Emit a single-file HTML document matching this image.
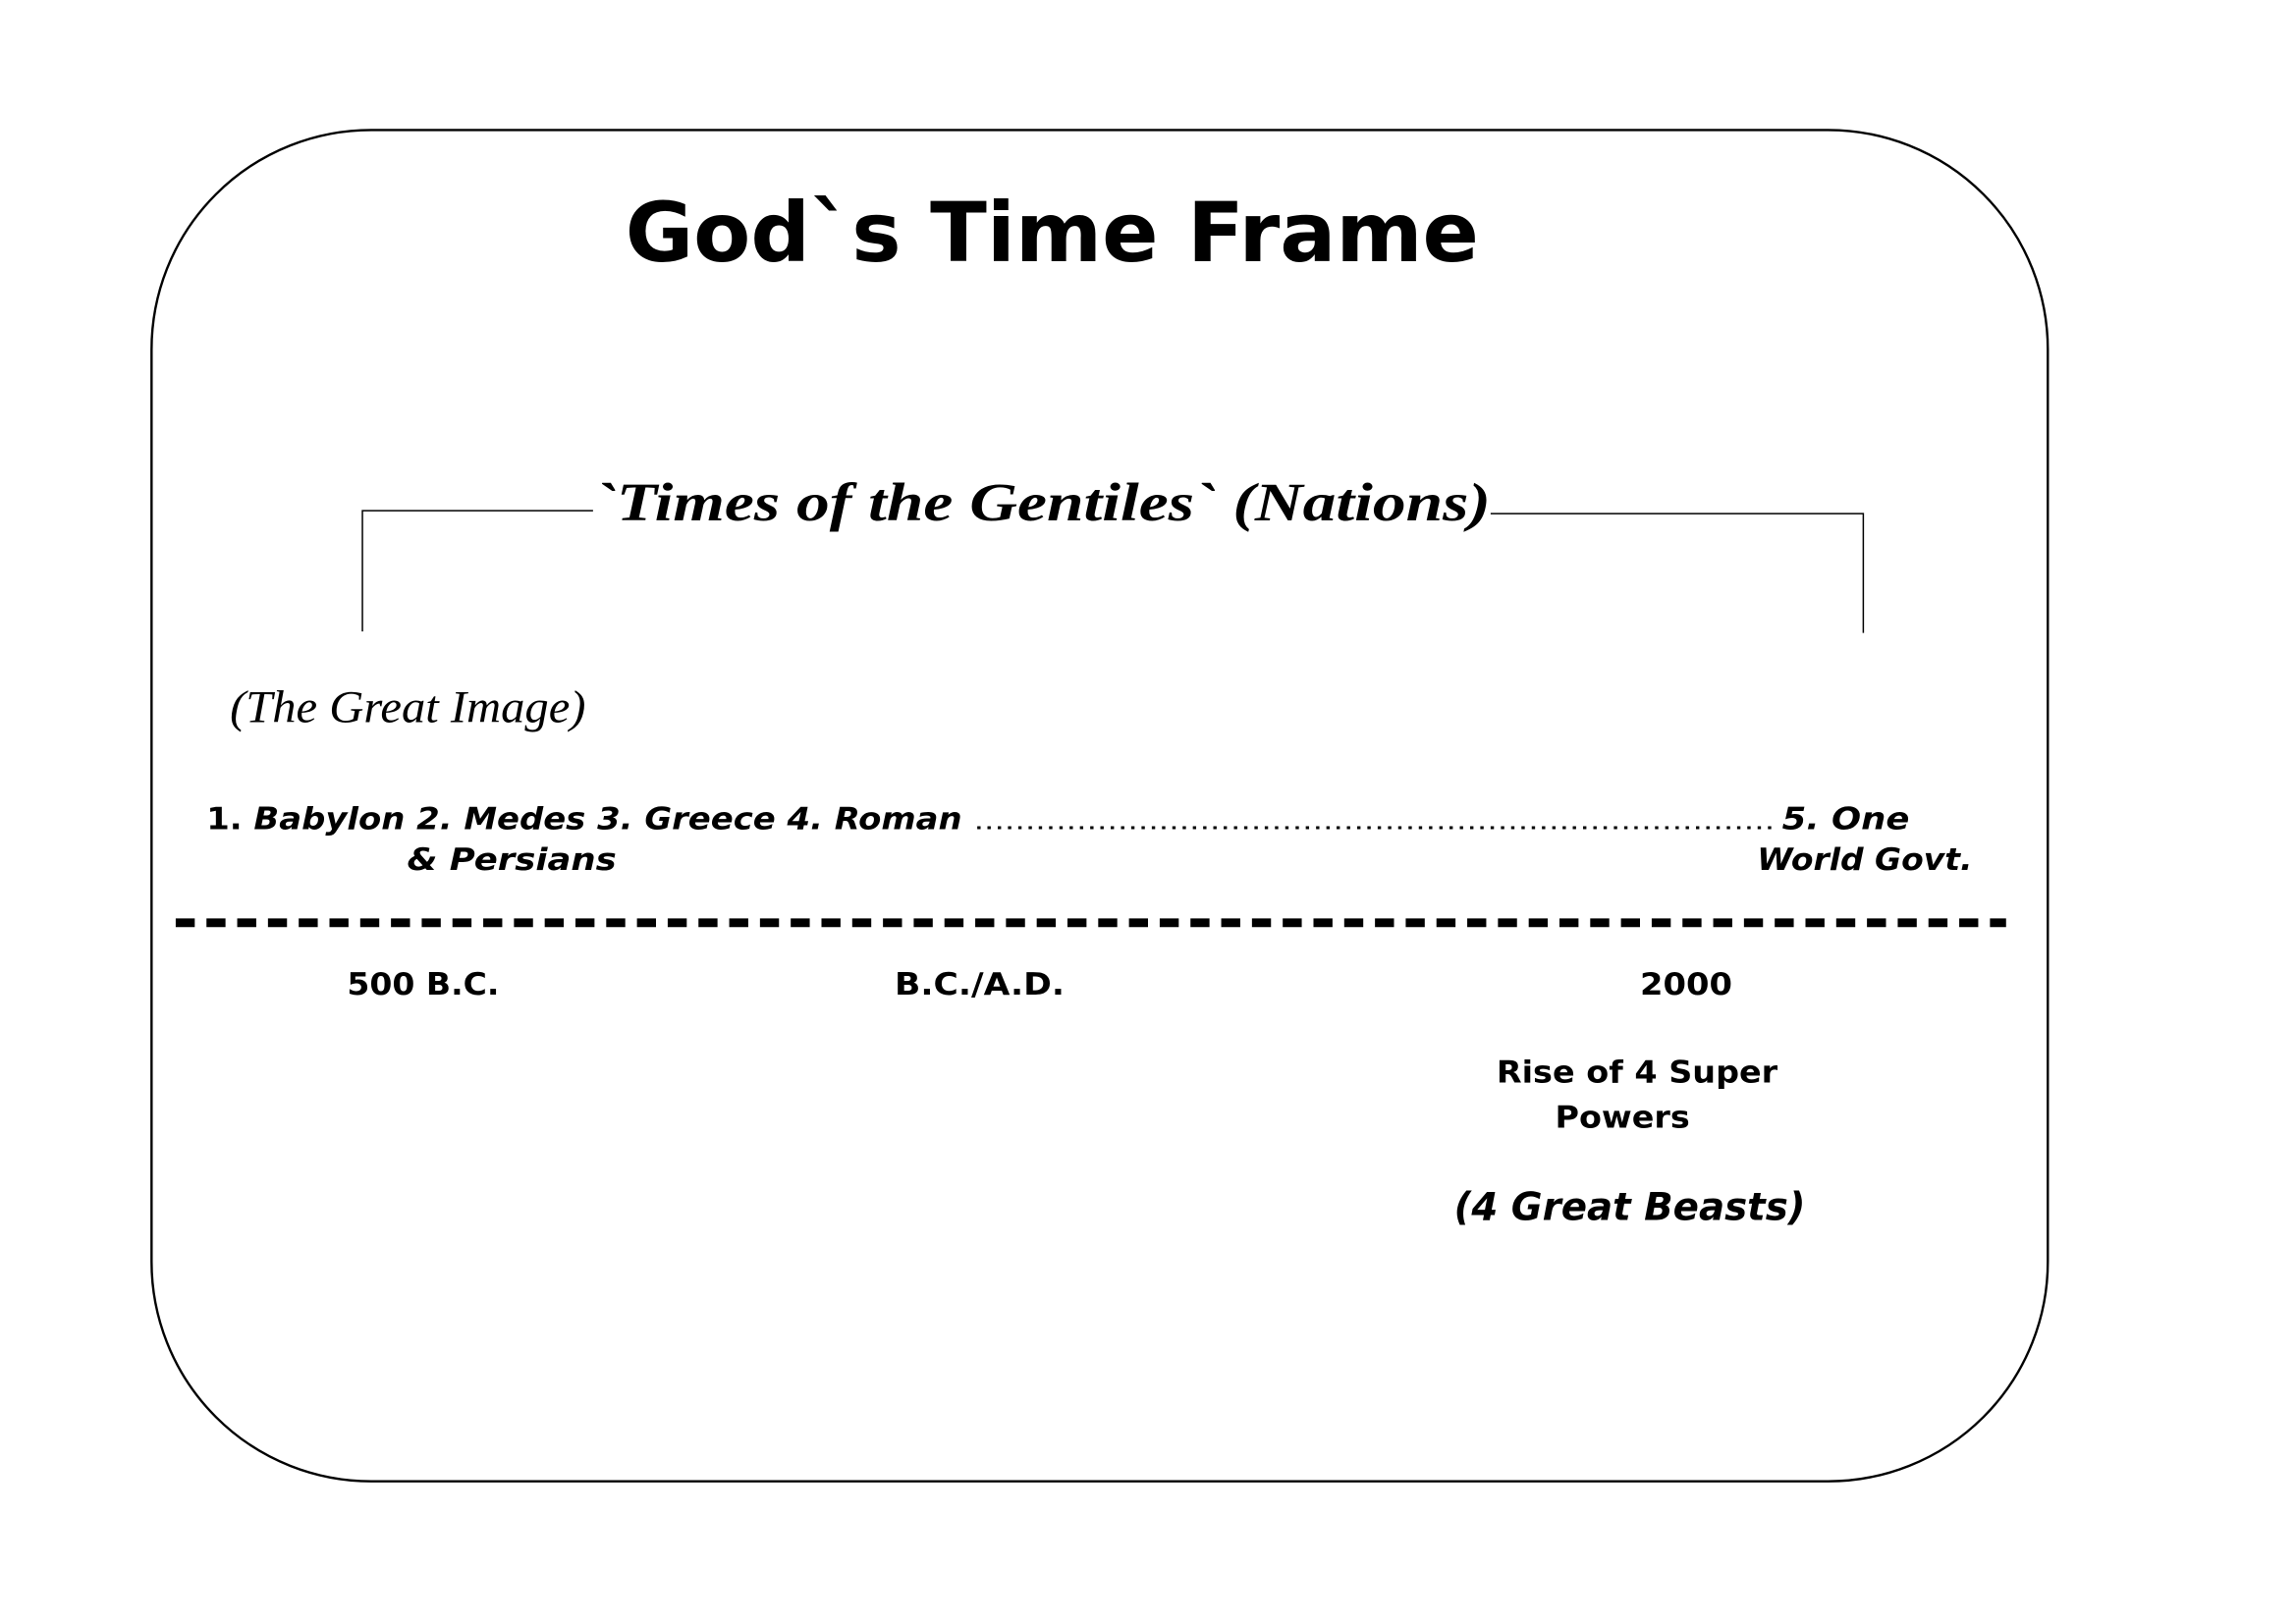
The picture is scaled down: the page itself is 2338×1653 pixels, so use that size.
<!DOCTYPE html>
<html><head><meta charset="utf-8"><style>
html,body{margin:0;padding:0;background:#fff;}
svg{display:block;}
</style></head><body>
<svg width="2338" height="1653" viewBox="0 0 1568 1108" xmlns="http://www.w3.org/2000/svg">
<rect x="0" y="0" width="1568" height="1108" fill="#fff"/>
<rect x="103.5" y="88.5" width="1295" height="923" rx="150" ry="150" fill="none" stroke="#000" stroke-width="1.6"/>
<text x="427" y="178" font-family="DejaVu Sans, Liberation Sans, sans-serif" font-weight="bold" font-size="56" textLength="583" lengthAdjust="spacingAndGlyphs">God`s Time Frame</text>
<text x="406" y="355" font-family="Liberation Serif, DejaVu Serif, serif" font-style="italic" font-weight="bold" font-size="37" textLength="612" lengthAdjust="spacingAndGlyphs">`Times of the Gentiles`  (Nations)</text>
<path d="M247.5 431 V348.5 H405 M1018 350.5 H1272.5 V432" fill="none" stroke="#000" stroke-width="1"/>
<text x="157" y="493" font-family="Liberation Serif, DejaVu Serif, serif" font-style="italic" font-size="31" textLength="243" lengthAdjust="spacingAndGlyphs">(The Great Image)</text>
<g font-family="DejaVu Sans, Liberation Sans, sans-serif" font-weight="bold" font-size="21">
<text x="141" y="566" textLength="516" lengthAdjust="spacingAndGlyphs">1. <tspan font-style="italic">Babylon 2. Medes  3. Greece 4. Roman</tspan></text>
<text x="665" y="566" font-weight="normal" font-size="16" textLength="547" lengthAdjust="spacingAndGlyphs">..............................................................................</text>
<text x="1217" y="566" font-style="italic" textLength="87" lengthAdjust="spacingAndGlyphs">5. One</text>
<text x="278" y="594" font-style="italic" textLength="143" lengthAdjust="spacingAndGlyphs">&amp;  Persians</text>
<text x="1200" y="594" font-style="italic" textLength="147" lengthAdjust="spacingAndGlyphs">World Govt.</text>
<text x="237" y="679" textLength="104" lengthAdjust="spacingAndGlyphs">500 B.C.</text>
<text x="611" y="679" textLength="116" lengthAdjust="spacingAndGlyphs">B.C./A.D.</text>
<text x="1120" y="679" textLength="63" lengthAdjust="spacingAndGlyphs">2000</text>
<text x="1022" y="739" textLength="192" lengthAdjust="spacingAndGlyphs">Rise of 4 Super</text>
<text x="1062" y="770" textLength="92" lengthAdjust="spacingAndGlyphs">Powers</text>
<text x="993" y="833" font-style="italic" font-size="26" textLength="240" lengthAdjust="spacingAndGlyphs">(4 Great Beasts)</text>
</g>
<line x1="120" y1="630" x2="1370" y2="630" stroke="#000" stroke-width="6" stroke-dasharray="13 8"/>
</svg>
</body></html>
